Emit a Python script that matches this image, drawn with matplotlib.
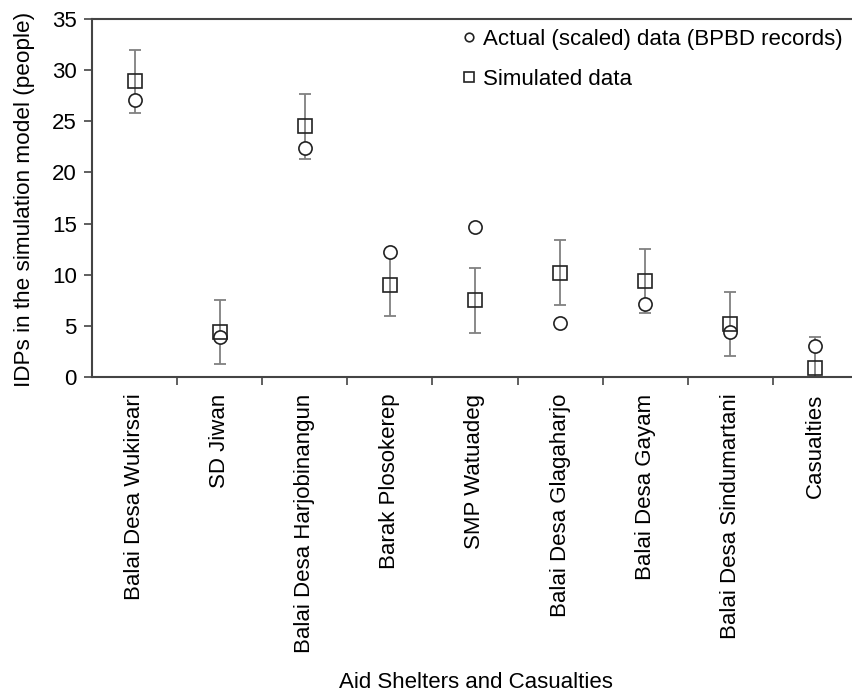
import numpy as np
import matplotlib
matplotlib.use("Agg")
import matplotlib.pyplot as plt

plt.rcParams['font.family'] = ['Liberation Sans', 'DejaVu Sans']

# data
shelters = ["Balai Desa Wukirsari", "SD Jiwan", "Balai Desa Harjobinangun",
            "Barak Plosokerep", "SMP Watuadeg", "Balai Desa Glagaharjo",
            "Balai Desa Gayam", "Balai Desa Sindumartani", "Casualties"]
actual = [27.1, 3.9, 22.4, 12.2, 14.7, 5.3, 7.1, 4.4, 3.0]
simulated = [28.9, 4.4, 24.5, 9.0, 7.5, 10.2, 9.4, 5.2, 0.85]
sim_err = [3.1, 3.1, 3.15, 3.05, 3.15, 3.15, 3.1, 3.1, 3.05]

x = np.arange(len(shelters))
fs = 16

fig = plt.figure(figsize=(8.52, 6.97), dpi=100)
ax = fig.add_axes([92/852, 1-377/697, 766/852, 358/697])

ax.errorbar(x, simulated, yerr=sim_err, fmt='none', ecolor='#808080',
            elinewidth=1.3, capsize=4, capthick=1.3, zorder=2)
ax.plot(x, actual, 'o', ms=9.5, mfc='white', mec='#222222', mew=1.2,
        linestyle='none', label='Actual (scaled) data (BPBD records)', zorder=3)
ax.plot(x, simulated, 's', ms=10, mfc='none', mec='#222222', mew=1.2,
        linestyle='none', label='Simulated data', zorder=4)

ax.set_xlim(-0.5, len(shelters) - 0.5)
ax.set_ylim(0, 35)
ax.set_yticks(np.arange(0, 36, 5))
ax.set_xticks(x)
ax.set_xticklabels(shelters, rotation=90, fontsize=fs)
ax.set_xticks(x[:-1] + 0.5, minor=True)
ax.tick_params(axis='x', which='major', length=0, pad=12)
ax.tick_params(axis='x', which='minor', length=6, width=1.2, color='#444444')
ax.tick_params(axis='y', length=6, width=1.2, color='#444444', labelsize=fs, pad=5)

for s in ['left', 'bottom', 'top']:
    ax.spines[s].set_linewidth(1.5)
    ax.spines[s].set_color('#444444')
ax.spines['right'].set_visible(False)

fig.text(25/852, 1-199/697, 'IDPs in the simulation model (people)',
         rotation=90, ha='center', va='center', fontsize=16.2)
fig.text(476/852, 1-683/697, 'Aid Shelters and Casualties', ha='center',
         va='center', fontsize=fs)

fig.legend(loc='upper left', bbox_to_anchor=(453/852, 1-20/697), frameon=False,
           fontsize=fs, markerscale=0.65, handlelength=0.6, handletextpad=0.35,
           labelspacing=0.85, borderaxespad=0)

fig.savefig('out.png', dpi=100)
